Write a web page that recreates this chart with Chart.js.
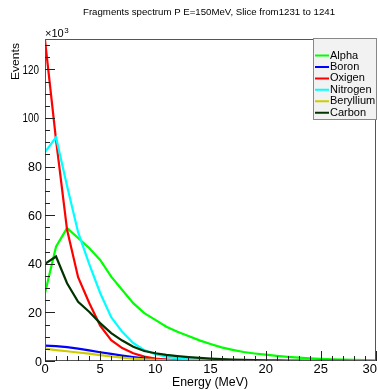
<!DOCTYPE html>
<html>
<head>
<meta charset="utf-8">
<script src="https://cdn.jsdelivr.net/npm/chart.js@4/dist/chart.umd.min.js"></script>
<style>
  html, body { margin: 0; padding: 0; background: #fff; }
  #wrap { width: 378px; height: 390px; }
</style>
</head>
<body>
<div id="wrap"><canvas id="chart" width="378" height="390"></canvas></div>
<script>
// --- Data (values in units of 10^3 events) ---
const energies = [0,1,2,3,4,5,6,7,8,9,10,11,12,13,14,15,16,17,18,19,20,21,22,23,24,25,26,27,28,29,30];
const alpha     = [28,47,54.7,50.6,46.5,41.6,34.7,29.2,23.8,19.7,16.9,14.1,12,10.3,8.5,7,5.6,4.6,3.7,3.1,2.6,2.1,1.7,1.4,1.1,0.9,0.7,0.55,0.45,0.35,0.3];
const boron     = [6.3,6.1,5.7,5.1,4.4,3.6,2.9,2.2,1.6,1.1,0.75,0.5,0.3,0.2,0.12,0.08,0.05,0.03,0.02,0.01,0,0,0,0,0,0,0,0,0,0,0];
const oxigen    = [132,91,54,34.5,24,14.5,8.6,5.3,3.2,1.8,1.0,0.6,0.35,0.2,0.12,0.08,0.05,0.04,0.03,0.02,0.01,0,0,0,0,0,0,0,0,0,0];
const nitrogen  = [86,92,72,53,40,28,18,12,7.4,4.5,2.8,1.8,1.1,0.7,0.45,0.3,0.2,0.12,0.08,0.05,0.03,0.02,0.01,0,0,0,0,0,0,0,0];
const beryllium = [5.1,4.5,4.0,3.5,3.0,2.4,1.9,1.4,1.0,0.7,0.45,0.3,0.2,0.12,0.08,0.05,0.03,0.02,0.01,0,0,0,0,0,0,0,0,0,0,0,0];
const carbon    = [40,43,32,24.4,20.3,15.6,11.5,8.4,5.9,4.1,3.2,2.5,2.0,1.6,1.3,1.0,0.8,0.6,0.5,0.4,0.3,0.25,0.2,0.15,0.1,0.1,0.05,0.05,0,0,0];

const seriesNames  = ['Alpha', 'Boron', 'Oxigen', 'Nitrogen', 'Beryllium', 'Carbon'];
const seriesValues = [alpha, boron, oxigen, nitrogen, beryllium, carbon];
const seriesColors = ['#00ff00', '#0000ff', '#ff0000', '#00ffff', '#cccc00', '#003300'];

const yTicks = [0, 20, 40, 60, 80, 100, 120];
const xTicks = [0, 5, 10, 15, 20, 25, 30];

const titleText = 'Fragments spectrum P E=150MeV, Slice from1231 to 1241';
const xTitle = 'Energy (MeV)';
const yTitle = 'Events';

const FONT = '"Liberation Sans", Arial, Helvetica, sans-serif';

// draw text squeezed/stretched to a given width
const fitText = (ctx, text, x, y, size, width, align) => {
    ctx.save();
    ctx.font = `${size}px ${FONT}`;
    const w = ctx.measureText(text).width;
    const sx = width ? width / w : 1;
    let left = x;
    if (align === 'center') left = x - w * sx / 2;
    else if (align === 'right') left = x - w * sx;
    ctx.translate(left, y);
    ctx.scale(sx, 1);
    ctx.textAlign = 'left';
    ctx.textBaseline = 'alphabetic';
    ctx.fillText(text, 0, 0);
    ctx.restore();
};

const rootFrame = {
    id: 'rootFrame',
    afterDatasetsDraw(chart) {
        const { ctx, chartArea: a, scales: { x, y } } = chart;
        ctx.save();
        ctx.fillStyle = '#000';

        // frame
        ctx.strokeStyle = '#555';
        ctx.lineWidth = 1;
        ctx.strokeRect(a.left + 0.5, a.top + 0.5, a.right - a.left - 1, a.bottom - a.top - 1);

        // ticks (inward, ROOT style)
        ctx.strokeStyle = '#222';
        ctx.beginPath();
        for (let v = 0; v <= 130; v += 5) {
            const py = Math.round(y.getPixelForValue(v)) + 0.5;
            if (py < a.top) break;
            const len = v % 20 === 0 ? 10 : 5;
            ctx.moveTo(a.left, py);
            ctx.lineTo(a.left + len, py);
        }
        for (let v = 0; v <= 30; v += 1) {
            const px = Math.round(x.getPixelForValue(v)) + 0.5;
            const len = v % 5 === 0 ? 10 : 5;
            ctx.moveTo(px, a.bottom);
            ctx.lineTo(px, a.bottom - len);
        }
        ctx.stroke();

        // tick labels
        yTicks.forEach(v => {
            const py = y.getPixelForValue(v);
            const label = String(v);
            if (label.length === 3) fitText(ctx, label, 39, py + 4.5, 12.5, 16.5, 'right');
            else fitText(ctx, label, 42, py + 4.5, 12.5, 0, 'right');
        });
        xTicks.forEach((v, i) => {
            const px = x.getPixelForValue(v);
            if (i === xTicks.length - 1) fitText(ctx, String(v), 377, 373, 13, 0, 'right');
            else fitText(ctx, String(v), px, 373, 13, 0, 'center');
        });

        // exponent
        fitText(ctx, '\u00d710', 45, 37, 11, 0, 'left');
        ctx.font = `8px ${FONT}`;
        ctx.fillText('3', 45 + ctx.measureText('\u00d710').width * 11 / 8 + 0.5, 32.5);

        // titles
        fitText(ctx, titleText, 209, 15, 9.5, 252, 'center');
        fitText(ctx, xTitle, 210, 386, 12.5, 76, 'center');
        ctx.save();
        ctx.translate(18.5, 43);
        ctx.rotate(-Math.PI / 2);
        fitText(ctx, yTitle, 0, 0, 11.5, 37, 'right');
        ctx.restore();

        // legend box
        const lx = 313.5, ly = 38.5, lw = 63, lh = 81;
        ctx.fillStyle = '#f2f2f2';
        ctx.fillRect(lx, ly, lw, lh);
        ctx.strokeStyle = '#888';
        ctx.strokeRect(lx, ly, lw, lh);
        ctx.save();
        ctx.beginPath();
        ctx.rect(lx, ly, lw, lh);
        ctx.clip();
        seriesNames.forEach((name, i) => {
            const base = 58.5 + i * 11.45;
            ctx.strokeStyle = seriesColors[i];
            ctx.lineWidth = 2;
            ctx.beginPath();
            ctx.moveTo(315, base - 3);
            ctx.lineTo(329, base - 3);
            ctx.stroke();
            ctx.fillStyle = '#000';
            fitText(ctx, name, 330, base, 11, 0, 'left');
        });
        ctx.restore();

        ctx.restore();
    }
};

const datasets = seriesNames.map((name, i) => ({
    label: name,
    data: energies.map((e, j) => ({ x: e, y: seriesValues[i][j] })),
    borderColor: seriesColors[i],
    backgroundColor: seriesColors[i],
    borderWidth: 2.2,
    pointRadius: 0,
    tension: 0,
    fill: false,
    order: seriesNames.length - i
}));

new Chart(document.getElementById('chart').getContext('2d'), {
    type: 'line',
    data: { datasets },
    options: {
        responsive: false,
        animation: false,
        layout: { padding: { left: 45, right: 2, top: 39, bottom: 29 } },
        plugins: { legend: { display: false }, title: { display: false }, tooltip: { enabled: false } },
        scales: {
            x: { type: 'linear', min: 0, max: 30, display: false },
            y: { type: 'linear', min: 0, max: 132.5, display: false }
        }
    },
    plugins: [rootFrame]
});
</script>
</body>
</html>
